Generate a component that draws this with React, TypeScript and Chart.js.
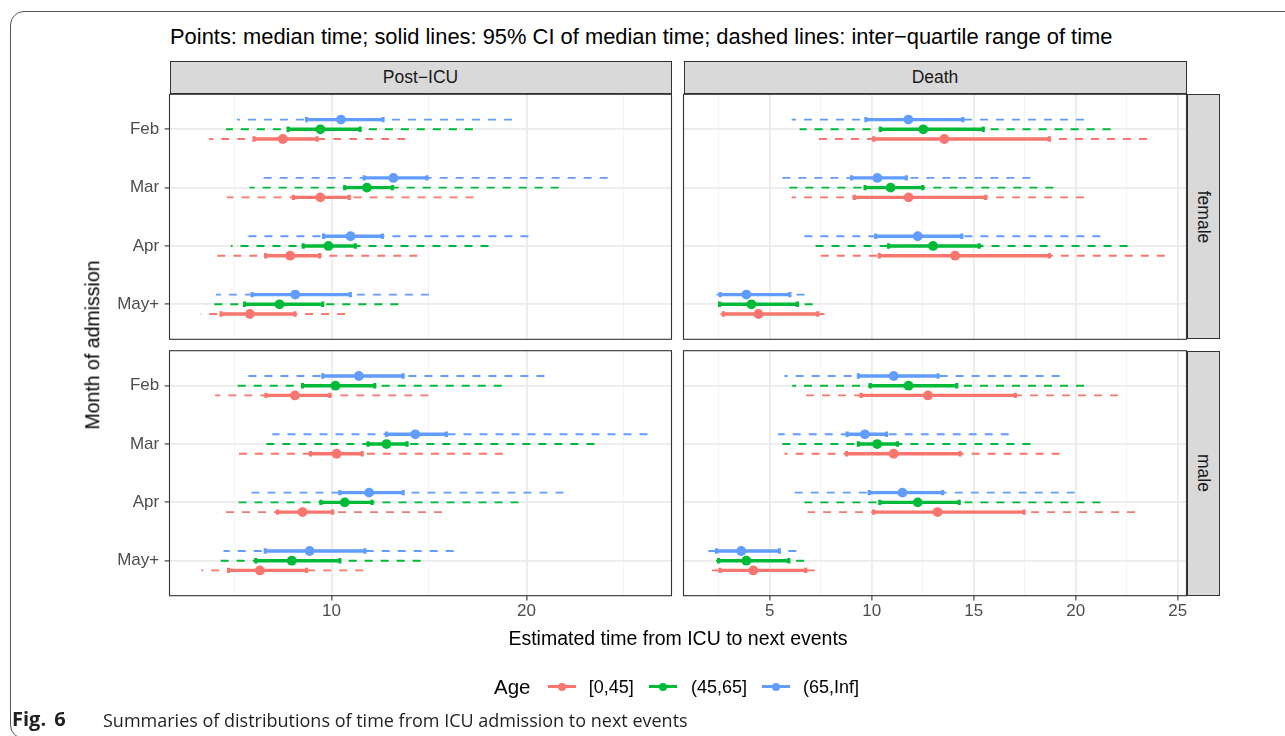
import React, { useEffect, useRef } from "react";
import { Chart, registerables } from "chart.js";

Chart.register(...registerables);

const W = 1285;
const H = 736;

const months = ["Feb", "Mar", "Apr", "May+"];
const ageGroups = ["[0,45]", "(45,65]", "(65,Inf]"];
const ageColors = ["#F8766D", "#00BA38", "#619CFF"];
const eventTypes = ["Post\u2212ICU", "Death"];
const sexes = ["female", "male"];

// One row per month (Feb, Mar, Apr, May+):
// [lower quartile, CI low, median, CI high, upper quartile]
const postIcuFemale045 = [[6.47, 7.59, 8.41, 9.5, 13.0], [6.89, 8.73, 9.61, 10.65, 16.57], [6.52, 7.91, 8.63, 9.59, 13.57], [6.28, 6.75, 7.48, 8.78, 10.5]];
const postIcuFemale4565 = [[6.87, 8.57, 9.61, 11.07, 16.53], [7.47, 10.48, 11.34, 12.42, 22.43], [6.99, 9.04, 9.89, 10.88, 17.48], [6.4, 7.34, 8.31, 9.69, 12.68]];
const postIcuFemale65 = [[7.14, 9.15, 10.34, 12.01, 18.99], [7.8, 11.23, 12.46, 14.04, 26.69], [7.42, 9.72, 10.7, 11.98, 20.14], [6.63, 7.54, 8.79, 10.69, 14.14]];
const postIcuMale045 = [[6.61, 7.92, 8.78, 9.94, 14.11], [7.18, 9.28, 10.18, 11.15, 18.39], [6.67, 8.25, 9.02, 10.04, 14.81], [6.29, 6.93, 7.75, 9.15, 11.19]];
const postIcuMale4565 = [[7.16, 9.02, 10.14, 11.66, 18.32], [7.83, 11.39, 12.16, 13.08, 25.46], [7.18, 9.63, 10.48, 11.55, 19.44], [6.55, 7.64, 8.68, 10.3, 13.73]];
const postIcuMale65 = [[7.37, 9.69, 11.02, 12.9, 21.32], [8.1, 12.16, 13.47, 15.04, 30.76], [7.48, 10.3, 11.43, 12.9, 22.81], [6.81, 7.9, 9.25, 11.26, 15.44]];
const deathFemale045 = [[7.07, 10.1, 13.56, 18.71, 23.49], [6.08, 9.15, 11.81, 15.59, 20.41], [7.24, 10.37, 14.09, 18.71, 24.37], [2.28, 2.73, 4.45, 7.36, 7.69]];
const deathFemale4565 = [[6.47, 10.43, 12.53, 15.47, 21.71], [5.91, 9.68, 10.93, 12.5, 18.91], [6.99, 10.83, 13.01, 15.27, 22.54], [2.5, 2.55, 4.11, 6.36, 7.11]];
const deathFemale65 = [[6.08, 9.72, 11.8, 14.47, 20.41], [5.61, 9.02, 10.28, 11.7, 17.78], [6.49, 10.2, 12.26, 14.42, 21.21], [2.08, 2.58, 3.86, 5.99, 6.71]];
const deathMale045 = [[6.57, 9.48, 12.76, 17.04, 22.07], [5.73, 8.77, 11.08, 14.34, 19.21], [6.86, 10.1, 13.23, 17.47, 22.91], [2.17, 2.57, 4.2, 6.77, 7.22]];
const deathMale4565 = [[6.11, 9.93, 11.81, 14.17, 20.41], [5.61, 9.35, 10.27, 11.26, 17.78], [6.49, 10.4, 12.26, 14.29, 21.21], [2.08, 2.5, 3.86, 5.94, 6.69]];
const deathMale65 = [[5.73, 9.35, 11.08, 13.26, 19.21], [5.41, 8.8, 9.67, 10.73, 16.72], [6.08, 9.88, 11.51, 13.48, 19.95], [1.87, 2.4, 3.61, 5.48, 6.31]];

// x-axis breaks
const postIcuBreaks = [10, 20];
const postIcuMinor = [Math.sqrt(5 * 10), Math.sqrt(10 * 20), Math.sqrt(20 * 40)];
const deathBreaks = [5, 10, 15, 20, 25];
const deathMinor = [2.5, 7.5, 12.5, 17.5, 22.5];

// panel geometry (facet grid: columns = event type, rows = sex)
const COL_X = [
  [169.5, 671.5],
  [683.5, 1186.5],
];
const ROW_Y = [
  [94.3, 339.3],
  [350.7, 595.7],
];
const X_LIMITS = [
  [5.62, 33.5],
  [0.78, 25.43],
];
const DODGE = 1 / 6;
const Y_AXIS_W = 60;
const X_AXIS_H = 30;

const SANS = "'Liberation Sans', Arial, Helvetica, sans-serif";
const INK = "#333333";
const GRID = "#EBEBEB";
const GRID_MINOR = "#F3F3F3";

const panelFrame = {
  id: "panelFrame",
  afterDatasetsDraw(chart: any) {
    const { left, top, right, bottom } = chart.chartArea;
    const ctx = chart.ctx;
    ctx.save();
    ctx.strokeStyle = INK;
    ctx.lineWidth = 1.1;
    ctx.strokeRect(left, top, right - left, bottom - top);
    ctx.restore();
  },
};

function buildDatasets(series: number[][][]) {
  const out: any[] = [];
  series.forEach((rows, g) => {
    const color = ageColors[g];
    const yOf = (m: number) => m + 1 + (1 - g) * DODGE;
    const gap = { x: null, y: null };
    out.push({
      label: `${ageGroups[g]} IQR`,
      data: rows.flatMap((r, m) => [{ x: r[4], y: yOf(m) }, { x: r[0], y: yOf(m) }, gap]),
      showLine: true,
      spanGaps: false,
      borderColor: color,
      borderWidth: 1.9,
      borderDash: [8, 8],
      pointRadius: 0,
      order: 3,
    });
    out.push({
      label: `${ageGroups[g]} CI`,
      data: rows.flatMap((r, m) => [{ x: r[3], y: yOf(m) }, { x: r[1], y: yOf(m) }, gap]),
      showLine: true,
      spanGaps: false,
      borderColor: color,
      borderWidth: 3.4,
      pointStyle: "line",
      pointRotation: 90,
      pointRadius: 2.7,
      pointBorderWidth: 3.2,
      pointBorderColor: color,
      pointBackgroundColor: color,
      order: 2,
    });
    out.push({
      label: `${ageGroups[g]} median`,
      data: rows.map((r, m) => ({ x: r[2], y: yOf(m) })),
      showLine: false,
      pointStyle: "circle",
      pointRadius: 4.9,
      pointBorderWidth: 0,
      pointBackgroundColor: color,
      order: 1,
    });
  });
  return out;
}

function Panel({ series, col, row }: { series: number[][][]; col: number; row: number }) {
  const ref = useRef<HTMLCanvasElement | null>(null);
  useEffect(() => {
    if (!ref.current) return;
    const [left, right] = COL_X[col];
    const [top, bottom] = ROW_Y[row];
    const majors = col === 0 ? postIcuBreaks : deathBreaks;
    const minors = col === 0 ? postIcuMinor : deathMinor;
    const gridVals = [...majors, ...minors].sort((a, b) => a - b);
    const isMajor = (v: number) => majors.some((b) => Math.abs(b - v) < 1e-6);
    const showX = row === 1;
    const showY = col === 0;
    const tickFont = { family: SANS, size: 17 };

    const chart = new Chart(ref.current, {
      type: "line",
      data: { datasets: buildDatasets(series) },
      options: {
        animation: false,
        responsive: false,
        devicePixelRatio: 1,
        events: [],
        layout: {
          padding: { left: left - Y_AXIS_W, top, right: W - right, bottom: H - bottom - X_AXIS_H },
        },
        plugins: { legend: { display: false }, tooltip: { enabled: false }, title: { display: false } },
        scales: {
          x: {
            type: col === 0 ? "logarithmic" : "linear",
            min: X_LIMITS[col][0],
            max: X_LIMITS[col][1],
            bounds: "data",
            afterBuildTicks: (s: any) => {
              s.ticks = gridVals.map((v) => ({ value: v }));
            },
            afterFit: (s: any) => {
              s.height = X_AXIS_H;
            },
            ticks: {
              display: showX,
              autoSkip: false,
              maxRotation: 0,
              minRotation: 0,
              padding: 1,
              font: tickFont,
              color: "#4D4D4D",
              callback: (v: any) => (isMajor(Number(v)) ? String(Math.round(Number(v))) : ""),
            },
            grid: {
              color: (c: any) => (c.tick && isMajor(c.tick.value) ? GRID : GRID_MINOR),
              lineWidth: (c: any) => (c.tick && isMajor(c.tick.value) ? 1.8 : 0.9),
              drawTicks: showX,
              tickLength: 4.8,
              tickWidth: 1.1,
              tickColor: (c: any) => (c.tick && isMajor(c.tick.value) ? INK : "rgba(0,0,0,0)"),
            },
            border: { display: false },
          },
          y: {
            type: "linear",
            min: 0.4,
            max: 4.6,
            reverse: true,
            bounds: "data",
            afterBuildTicks: (s: any) => {
              s.ticks = months.map((_, i) => ({ value: i + 1 }));
            },
            afterFit: (s: any) => {
              s.width = Y_AXIS_W;
            },
            ticks: {
              display: showY,
              autoSkip: false,
              padding: 5.5,
              font: tickFont,
              color: "#4D4D4D",
              callback: (v: any) => months[Number(v) - 1] ?? "",
            },
            grid: {
              color: GRID,
              lineWidth: 1.8,
              drawTicks: showY,
              tickLength: 4.8,
              tickWidth: 1.1,
              tickColor: INK,
            },
            border: { display: false },
          },
        },
      },
      plugins: [panelFrame],
    } as any);
    return () => chart.destroy();
  }, [series, col, row]);

  return (
    <canvas
      ref={ref}
      width={W}
      height={H}
      style={{ position: "absolute", left: 0, top: 0, width: W, height: H, pointerEvents: "none" }}
    />
  );
}

type TxtProps = {
  x: number;
  base: number;
  size: number;
  children: React.ReactNode;
  center?: boolean;
  color?: string;
  family?: string;
  ascent?: number;
  style?: React.CSSProperties;
};

// text placed by its baseline
function Txt({ x, base, size, children, center, color = "#000", family = SANS, ascent = 0.8465, style }: TxtProps) {
  return (
    <div
      style={{
        position: "absolute",
        left: x,
        top: base - ascent * size,
        fontSize: size,
        lineHeight: `${size}px`,
        fontFamily: family,
        color,
        whiteSpace: "nowrap",
        transform: center ? "translateX(-50%)" : undefined,
        ...style,
      }}
    >
      {children}
    </div>
  );
}

function LegendKey({ x, y, color }: { x: number; y: number; color: string }) {
  return (
    <>
      <div style={{ position: "absolute", left: x, top: y - 1.7, width: 28, height: 3.4, background: color }} />
      <div
        style={{ position: "absolute", left: x + 14 - 4.2, top: y - 4.2, width: 8.4, height: 8.4, borderRadius: "50%", background: color }}
      />
    </>
  );
}

const panelSeries = [
  [
    [postIcuFemale045, postIcuFemale4565, postIcuFemale65],
    [deathFemale045, deathFemale4565, deathFemale65],
  ],
  [
    [postIcuMale045, postIcuMale4565, postIcuMale65],
    [deathMale045, deathMale4565, deathMale65],
  ],
];

const CAPTION_FONT = "'Open Sans', 'Noto Sans', sans-serif";

export default function App() {
  const stripFill = "#D9D9D9";
  const legendY = 686.7;
  const legendKeyX = [547.7, 649, 762];
  const legendTextX = [588.7, 691, 803];
  return (
    <div style={{ position: "absolute", left: 0, top: 0, width: W, height: H, overflow: "hidden", background: "#fff" }}>
      {/* figure frame */}
      <div
        style={{
          position: "absolute",
          left: 10,
          top: 11,
          width: 1320,
          height: 726,
          border: "1px solid #555",
          borderRadius: 14,
        }}
      />

      <Txt x={170} base={44.3} size={21.9}>
        Points: median time; solid lines: 95% CI of median time; dashed lines: inter{"\u2212"}quartile range of time
      </Txt>

      {/* column strips */}
      {eventTypes.map((name, c) => (
        <div
          key={name}
          style={{
            position: "absolute",
            left: COL_X[c][0],
            top: 61,
            width: COL_X[c][1] - COL_X[c][0],
            height: ROW_Y[0][0] - 61,
            background: stripFill,
            border: `1.1px solid ${INK}`,
            boxSizing: "border-box",
          }}
        />
      ))}
      {eventTypes.map((name, c) => (
        <Txt key={name + "t"} x={(COL_X[c][0] + COL_X[c][1]) / 2} base={84} size={17.5} center color="#1A1A1A">
          {name}
        </Txt>
      ))}

      {/* row strips */}
      {sexes.map((name, r) => (
        <div
          key={name}
          style={{
            position: "absolute",
            left: COL_X[1][1],
            top: ROW_Y[r][0],
            width: 33,
            height: ROW_Y[r][1] - ROW_Y[r][0],
            background: stripFill,
            border: `1.1px solid ${INK}`,
            boxSizing: "border-box",
          }}
        />
      ))}
      {sexes.map((name, r) => (
        <div
          key={name + "t"}
          style={{
            position: "absolute",
            left: COL_X[1][1] + 16.5,
            top: (ROW_Y[r][0] + ROW_Y[r][1]) / 2,
            transform: "translate(-50%, -50%) rotate(90deg)",
            fontFamily: SANS,
            fontSize: 17.5,
            lineHeight: "17.5px",
            color: "#1A1A1A",
            whiteSpace: "nowrap",
          }}
        >
          {name}
        </div>
      ))}

      {panelSeries.map((rowSeries, r) =>
        rowSeries.map((series, c) => <Panel key={`${r}-${c}`} series={series} col={c} row={r} />)
      )}

      {/* axis titles */}
      <Txt x={678} base={646} size={19.5} center>
        Estimated time from ICU to next events
      </Txt>
      <div
        style={{
          position: "absolute",
          left: 93,
          top: 345,
          transform: "translate(-50%, -50%) rotate(-90deg)",
          fontFamily: SANS,
          fontSize: 19.5,
          lineHeight: "19.5px",
          whiteSpace: "nowrap",
        }}
      >
        Month of admission
      </div>

      {/* legend */}
      <Txt x={494} base={694} size={20.5}>
        Age
      </Txt>
      {ageGroups.map((g, i) => (
        <React.Fragment key={g}>
          <LegendKey x={legendKeyX[i]} y={legendY} color={ageColors[i]} />
          <Txt x={legendTextX[i]} base={693} size={18}>
            {g}
          </Txt>
        </React.Fragment>
      ))}

      {/* caption */}
      <Txt
        x={12}
        base={727}
        size={20}
        family={CAPTION_FONT}
        ascent={0.888}
        color="#231F20"
        style={{ fontWeight: 700, wordSpacing: 3 }}
      >
        Fig. 6
      </Txt>
      <Txt x={103} base={727} size={18} family={CAPTION_FONT} ascent={0.888} color="#231F20">
        Summaries of distributions of time from ICU admission to next events
      </Txt>
    </div>
  );
}
